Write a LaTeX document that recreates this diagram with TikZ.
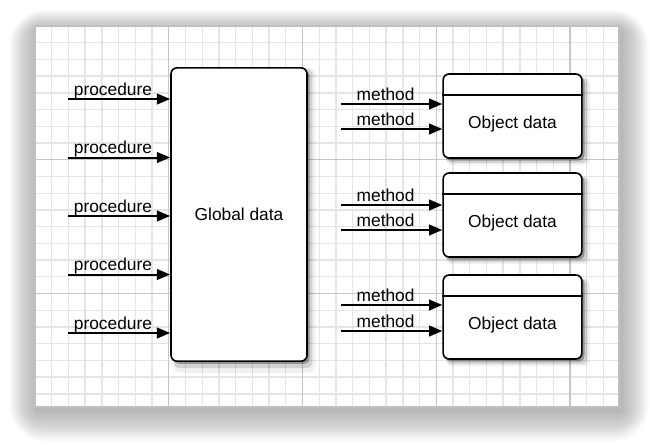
\documentclass[tikz,border=0pt]{standalone}
\usepackage{fontspec}
\setmainfont{Liberation Sans}
\usetikzlibrary{arrows.meta,shadows}

\tikzset{
  minor/.style={gray!20, line width=1pt},
  major/.style={gray!45, line width=0.9pt},
  box/.style={draw, line width=1.2pt, rounded corners=4.5pt, fill=white,
    general shadow={fill=black, opacity=0.06, shadow xshift=4pt, shadow yshift=-4pt, shadow scale=1.04},
    general shadow={fill=black, opacity=0.12, shadow xshift=3pt, shadow yshift=-3pt, shadow scale=1.02},
    general shadow={fill=black, opacity=0.3, shadow xshift=2pt, shadow yshift=-2pt}},
  objbox/.style={box, minimum width=104pt, minimum height=63pt,
    text height=40.5pt, text depth=22.5pt, inner sep=0pt},
  call/.style={line width=1.5pt, -{Triangle[length=10pt,width=8pt]}},
  lbl/.style={anchor=base, pos=0.44, yshift=3pt, inner sep=0pt}
}

\begin{document}
\begin{tikzpicture}[x=0.75pt, y=-0.75pt, font=\fontsize{13}{15}\selectfont]
    \useasboundingbox (0,0) rectangle (650,444);

    % Paper shadow
    \foreach \i in {1,...,28}
        \fill[black, opacity=0.011, rounded corners=\i pt]
            ({35-\i+2},{26-0.8*\i+6}) rectangle ({619+\i+2},{407+1.1*\i+4});

    % Paper and grid
    \fill[white] (35,26) rectangle (619,407);
    \begin{scope}
        \clip (35,26) rectangle (619,407);
        \foreach \i in {0,...,35}
            \draw[minor] ({35+\i*16.72},26) -- ({35+\i*16.72},407);
        \foreach \j in {0,...,23}
            \draw[minor] (35,{26+\j*16.72}) -- (619,{26+\j*16.72});
        \foreach \i in {1,...,4}
            \draw[major] ({35+\i*133.76},26) -- ({35+\i*133.76},407);
        \foreach \j in {1,2}
            \draw[major] (35,{26+\j*133.76}) -- (619,{26+\j*133.76});
    \end{scope}
    \draw[gray!50, line width=0.8pt] (35,26) rectangle (619,407);

    % Global data
    \node[box, minimum width=102pt, minimum height=220pt] (global) at (239,214.5) {Global data};

    % Objects
    \foreach \n/\y in {1/116,2/215,3/317} {
        \node[objbox] (obj\n) at (512.5,\y) {Object data};
        \draw[line width=1.2pt] ([yshift=-16.5pt]obj\n.north west) -- ([yshift=-16.5pt]obj\n.north east);
    }

    % Procedures
    \foreach \y [count=\i] in {99,157.5,216,274.5,333} {
        \coordinate (p\i) at (68,\y);
        \draw[call] (p\i) -- (p\i -| global.west) node[lbl] {procedure};
    }

    % Methods
    \foreach \y/\n [count=\i] in {104/1,129/1,205/2,230/2,305/3,331/3} {
        \coordinate (m\i) at (341,\y);
        \draw[call] (m\i) -- (m\i -| obj\n.west) node[lbl] {method};
    }
\end{tikzpicture}
\end{document}
